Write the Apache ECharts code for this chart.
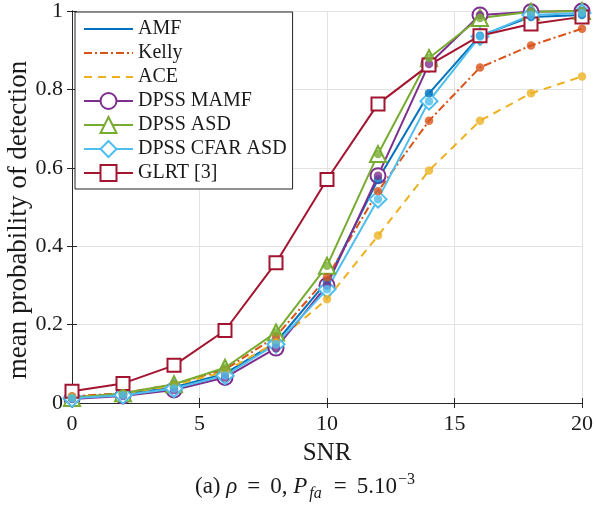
<!DOCTYPE html>
<html>
<head>
<meta charset="utf-8">
<script src="https://cdn.jsdelivr.net/npm/echarts@6/dist/echarts.min.js"></script>
<style>html,body{margin:0;padding:0;background:#fff}#c{width:596px;height:505px}</style>
</head>
<body>
<div id="c"></div>
<script>
const snr = [0, 2, 4, 6, 8, 10, 12, 14, 16, 18, 20];
const xTicks = [0, 5, 10, 15, 20];
const yTicks = [0, 0.2, 0.4, 0.6, 0.8, 1];
const amf      = [0.015, 0.022, 0.040, 0.075, 0.155, 0.310, 0.570, 0.790, 0.937, 0.985, 0.990];
const kelly    = [0.017, 0.025, 0.048, 0.085, 0.170, 0.320, 0.540, 0.720, 0.856, 0.912, 0.955];
const ace      = [0.015, 0.023, 0.045, 0.080, 0.155, 0.265, 0.427, 0.593, 0.720, 0.790, 0.833];
const dpssMamf = [0.010, 0.018, 0.033, 0.065, 0.140, 0.300, 0.580, 0.865, 0.990, 0.998, 1.000];
const dpssAsd  = [0.013, 0.025, 0.048, 0.090, 0.180, 0.350, 0.635, 0.880, 0.982, 0.998, 1.000];
const dpssCfar = [0.012, 0.020, 0.037, 0.070, 0.150, 0.290, 0.520, 0.770, 0.935, 0.990, 0.995];
const glrt     = [0.030, 0.050, 0.096, 0.185, 0.358, 0.570, 0.763, 0.862, 0.937, 0.967, 0.985];

const FONT = '"Liberation Serif", "DejaVu Serif", serif';
const C = ['#0072BD', '#D95319', '#EDB120', '#7E2F8E', '#77AC30', '#4DBEEE', '#A2142F'];
const INK = '#1a1a1a';

const defs = [
  {name: 'AMF', data: amf, color: C[0], type: 'solid', symbol: 'none', dot: true},
  {name: 'Kelly', data: kelly, color: C[1], type: [8, 3, 2, 3], symbol: 'none', dot: true},
  {name: 'ACE', data: ace, color: C[2], type: [8, 6], symbol: 'none', dot: true},
  {name: 'DPSS MAMF', data: dpssMamf, color: C[3], type: 'solid', symbol: 'emptyCircle', size: 15, dot: true},
  {name: 'DPSS ASD', data: dpssAsd, color: C[4], type: 'solid', symbol: 'emptyTriangle', size: 16, dot: true},
  {name: 'DPSS CFAR ASD', data: dpssCfar, color: C[5], type: 'solid', symbol: 'emptyDiamond', size: 17, dot: true},
  {name: 'GLRT [3]', data: glrt, color: C[6], type: 'solid', symbol: 'emptyRect', size: 13, dot: false}
];

const series = [];
defs.forEach(d => {
  series.push({
    name: d.name, type: 'line', data: snr.map((x, i) => [x, d.data[i]]),
    symbol: d.symbol, symbolSize: d.size || 0, showSymbol: d.symbol !== 'none',
    lineStyle: {color: d.color, width: 2, type: d.type},
    itemStyle: {color: d.color, borderColor: d.color, borderWidth: 2},
    emphasis: {disabled: true}, z: 2
  });
  if (d.dot) {
    series.push({
      name: d.name + ' pts', type: 'scatter', data: snr.map((x, i) => [x, d.data[i]]),
      symbol: 'circle', symbolSize: 8.5, itemStyle: {color: d.color},
      emphasis: {disabled: true}, z: 3
    });
  }
});

const legendData = defs.map(d => d.symbol === 'none'
  ? {name: d.name, itemStyle: {opacity: 0}}
  : {name: d.name});

const chart = echarts.init(document.getElementById('c'), null, {renderer: 'canvas'});
chart.setOption({
  animation: false,
  backgroundColor: '#fff',
  grid: {left: 72, right: 13, top: 7, bottom: 102, containLabel: false},
  legend: {
    data: legendData,
    orient: 'vertical', left: 75, top: 12,
    padding: [7, 6, 6, 8], itemGap: 4, itemWidth: 49, itemHeight: 20,
    backgroundColor: '#fff', borderColor: '#222', borderWidth: 1,
    textStyle: {fontFamily: FONT, fontSize: 20, color: INK},
    selectedMode: false
  },
  xAxis: [{
    type: 'value', min: 0, max: 20, interval: 5,
    name: 'SNR', nameLocation: 'middle', nameGap: 38,
    nameTextStyle: {fontFamily: FONT, fontSize: 25, color: INK},
    axisLine: {lineStyle: {color: '#262626', width: 1}},
    axisTick: {inside: true, length: 5, lineStyle: {color: '#262626'}},
    axisLabel: {fontFamily: FONT, fontSize: 22, color: INK, margin: 10},
    splitLine: {show: true, lineStyle: {color: '#e3e3e3', width: 1}}
  }, {
    type: 'value', min: 0, max: 20, interval: 5, position: 'top',
    axisLine: {show: true, lineStyle: {color: '#262626', width: 1}},
    axisTick: {inside: true, length: 5, lineStyle: {color: '#262626'}},
    axisLabel: {show: false}, splitLine: {show: false}
  }],
  yAxis: [{
    type: 'value', min: 0, max: 1, interval: 0.2,
    axisLine: {show: true, lineStyle: {color: '#262626', width: 1}},
    axisTick: {show: true, inside: true, length: 5, lineStyle: {color: '#262626'}},
    axisLabel: {fontFamily: FONT, fontSize: 22, color: INK, margin: 9,
      formatter: v => String(Math.round(v * 10) / 10)},
    splitLine: {show: true, lineStyle: {color: '#e3e3e3', width: 1}}
  }, {
    type: 'value', min: 0, max: 1, interval: 0.2, position: 'right',
    axisLine: {show: true, lineStyle: {color: '#262626', width: 1}},
    axisTick: {show: true, inside: true, length: 5, lineStyle: {color: '#262626'}},
    axisLabel: {show: false}, splitLine: {show: false}
  }],
  graphic: [{
    type: 'text', x: 19, y: 220, rotation: Math.PI / 2,
    style: {
      text: 'mean probability of detection',
      fontFamily: FONT, fontSize: 27, fill: INK,
      align: 'center', verticalAlign: 'middle'
    }
  }, {
    type: 'text', x: 305, y: 487,
    style: {
      text: '{n|(a) }{i|ρ}{eq|=}{n|0, }{i|P}{sub|fa}{eq|=}{n|5.10}{sup|−3}',
      align: 'center', verticalAlign: 'middle',
      rich: {
        n: {fontFamily: FONT, fontSize: 23, fill: INK, lineHeight: 30, verticalAlign: 'middle'},
        i: {fontFamily: FONT, fontSize: 23, fontStyle: 'italic', fill: INK, lineHeight: 30, verticalAlign: 'middle'},
        eq: {fontFamily: FONT, fontSize: 23, fill: INK, lineHeight: 30, verticalAlign: 'middle', padding: [0, 10, 0, 10]},
        sub: {fontFamily: FONT, fontSize: 16, fontStyle: 'italic', fill: INK, lineHeight: 30, verticalAlign: 'bottom', padding: [0, 2, 0, 2]},
        sup: {fontFamily: FONT, fontSize: 16, fill: INK, lineHeight: 30, verticalAlign: 'top', padding: [0, 0, 0, 1]}
      }
    }
  }],
  series: series
});
</script>
</body>
</html>
